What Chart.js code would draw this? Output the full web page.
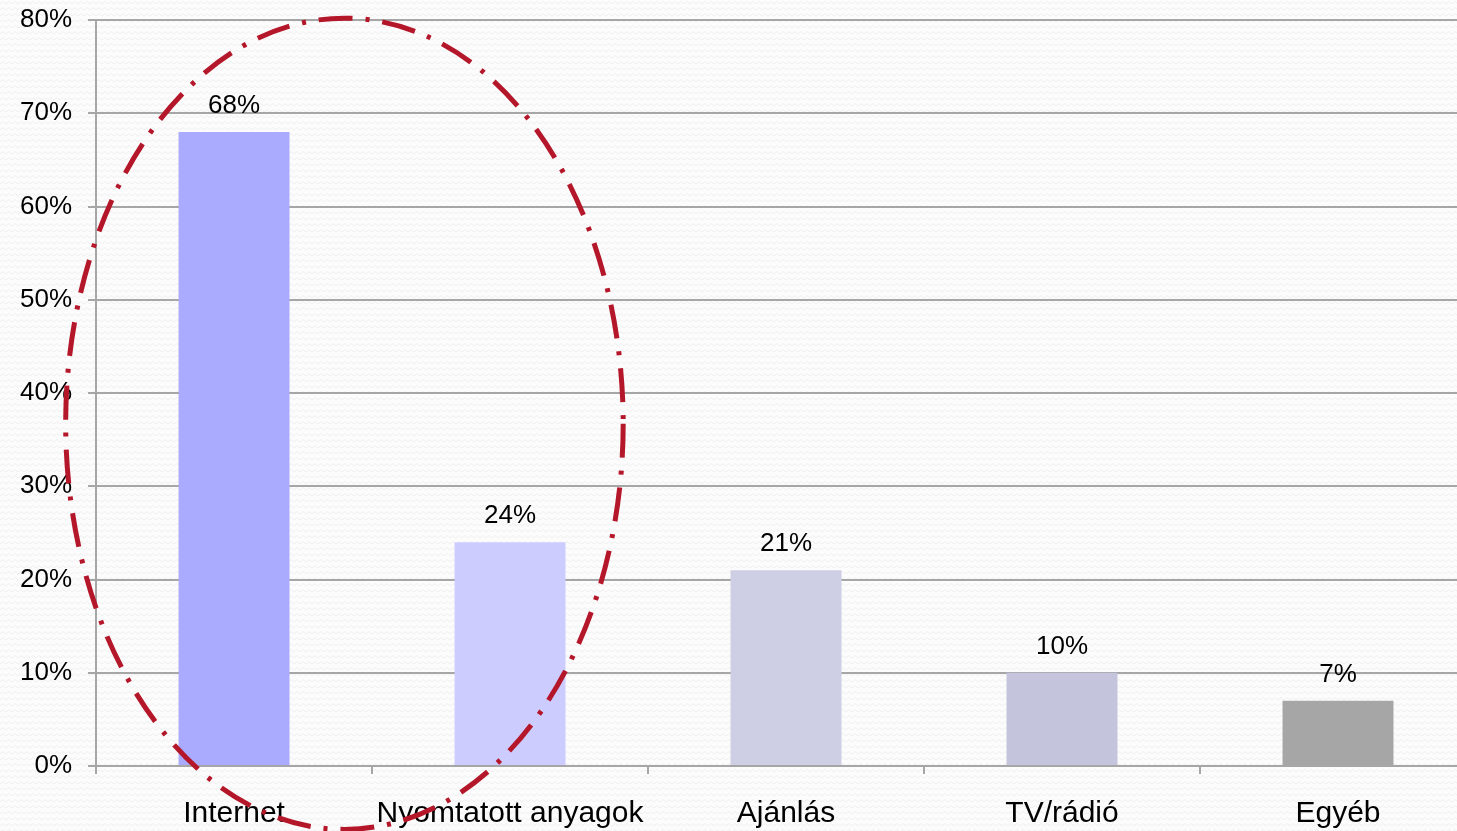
<!DOCTYPE html>
<html lang="hu">
<head>
<meta charset="UTF-8">
<script src="https://cdn.jsdelivr.net/npm/chart.js@4.4.1/dist/chart.umd.min.js"></script>
<title>Chart</title>
<style>
  html, body { margin: 0; padding: 0; overflow: hidden; background: #fcfcfc; }
  .wrap { width: 1476px; height: 831px; }
</style>
</head>
<body>
<div class="wrap"><canvas id="chart"></canvas></div>
<script>
const categories = ['Internet', 'Nyomtatott anyagok', 'Ajánlás', 'TV/rádió', 'Egyéb'];
const values = [68, 24, 21, 10, 7];
const barColors = ['#aaaaff', '#ccccff', '#ceceE4', '#c4c4dc', '#a6a6a6'];
const yTicks = [0, 10, 20, 30, 40, 50, 60, 70, 80];
// highlighted ellipse, in axis units (category index / percent)
const ellipseCenter = [0.4, 36.7];
const ellipseRadius = [1.01, 43.5];

const FONT = '"Liberation Sans", Arial, sans-serif';

const bgPlugin = {
  id: 'bg',
  beforeDraw(chart) {
    const ctx = chart.ctx;
    const p = document.createElement('canvas');
    p.width = 6; p.height = 6;
    const pc = p.getContext('2d');
    pc.fillStyle = '#fcfcfc';
    pc.fillRect(0, 0, 6, 6);
    pc.strokeStyle = '#efefef';
    pc.lineWidth = 1;
    pc.beginPath();
    pc.moveTo(0, 4); pc.lineTo(3, 1.5); pc.lineTo(6, 4);
    pc.stroke();
    ctx.save();
    ctx.fillStyle = ctx.createPattern(p, 'repeat');
    ctx.fillRect(0, 0, chart.width, chart.height);
    ctx.restore();
  }
};

const labelPlugin = {
  id: 'valueLabels',
  afterDatasetsDraw(chart) {
    const ctx = chart.ctx;
    const meta = chart.getDatasetMeta(0);
    ctx.save();
    ctx.font = '26px ' + FONT;
    ctx.fillStyle = '#000';
    ctx.textAlign = 'center';
    ctx.textBaseline = 'bottom';
    meta.data.forEach((bar, i) => {
      ctx.fillText(values[i] + '%', bar.x, bar.y - 13);
    });
    ctx.restore();
  }
};

const ellipsePlugin = {
  id: 'ellipse',
  afterDraw(chart) {
    const xs = chart.scales.x, ys = chart.scales.y;
    const cx = xs.getPixelForValue(ellipseCenter[0]);
    const cy = ys.getPixelForValue(ellipseCenter[1]);
    const rx = Math.abs(xs.getPixelForValue(ellipseCenter[0] + ellipseRadius[0]) - cx);
    const ry = Math.abs(ys.getPixelForValue(ellipseCenter[1] + ellipseRadius[1]) - cy);
    const ctx = chart.ctx;
    ctx.save();
    ctx.strokeStyle = '#b5172a';
    ctx.lineWidth = 5;
    ctx.setLineDash([34, 13, 4, 13]);
    ctx.beginPath();
    ctx.ellipse(cx, cy, rx, ry, 0, 0, Math.PI * 2);
    ctx.stroke();
    ctx.restore();
  }
};

new Chart(document.getElementById('chart'), {
  type: 'bar',
  data: {
    labels: categories,
    datasets: [{
      data: values,
      backgroundColor: barColors,
      borderWidth: 0,
      categoryPercentage: 1,
      barPercentage: 0.402
    }]
  },
  options: {
    responsive: true,
    maintainAspectRatio: false,
    animation: false,
    devicePixelRatio: 1,
    layout: { padding: { left: 4, top: 0, right: 0, bottom: 0 } },
    plugins: { legend: { display: false }, tooltip: { enabled: false } },
    scales: {
      x: {
        offset: true,
        afterFit(scale) { scale.height = 65; },
        grid: { offset: true, drawOnChartArea: false, drawTicks: true, tickLength: 8, color: '#a6a6a6', lineWidth: 2 },
        border: { color: '#a6a6a6', width: 2 },
        ticks: { color: '#000', font: { family: FONT, size: 30 }, padding: 22, maxRotation: 0, autoSkip: false }
      },
      y: {
        min: 0, max: 80,
        afterBuildTicks(axis) { axis.ticks = yTicks.map(v => ({ value: v })); },
        afterFit(scale) { scale.paddingTop = 20; scale.paddingBottom = 0; },
        grid: { color: '#a6a6a6', lineWidth: 2, tickLength: 8 },
        border: { color: '#a6a6a6', width: 2 },
        ticks: { color: '#000', font: { family: FONT, size: 26 }, padding: 16, callback: v => v + '%' }
      }
    }
  },
  plugins: [bgPlugin, labelPlugin, ellipsePlugin]
});
</script>
</body>
</html>
